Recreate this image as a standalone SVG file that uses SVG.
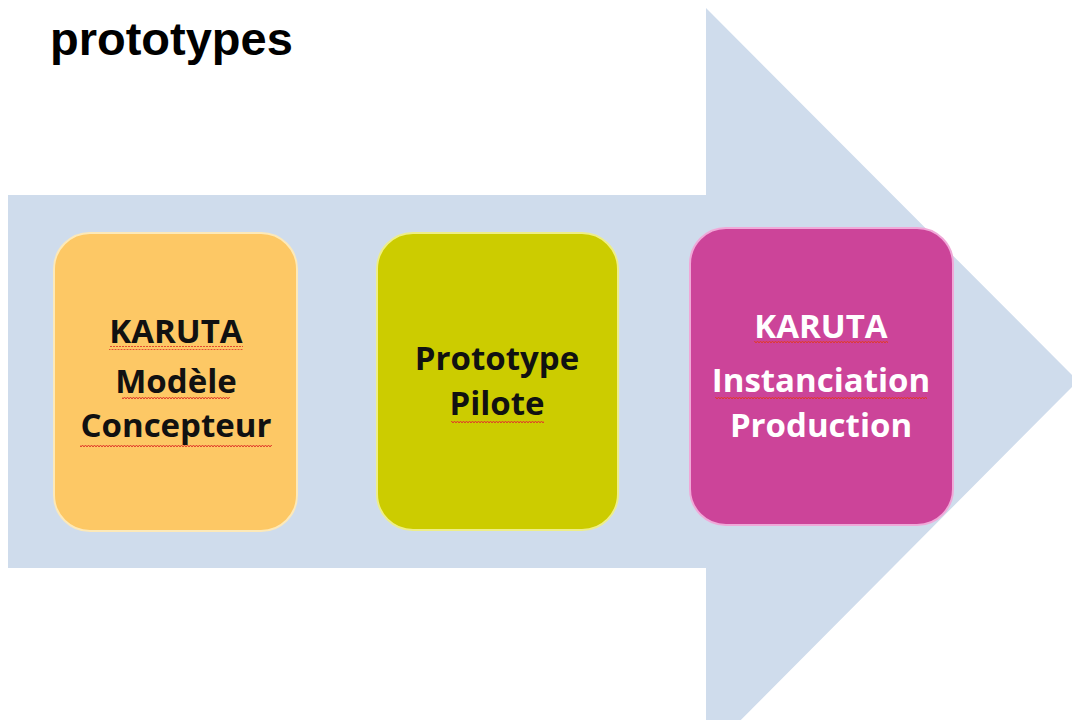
<svg xmlns="http://www.w3.org/2000/svg" width="1072" height="720" viewBox="0 0 1072 720">
<style>
.title{font-family:"Liberation Sans",Arial,sans-serif;font-weight:bold;font-size:47px;fill:#000}
.lbl{font-family:"Open Sans","Liberation Sans",sans-serif;font-weight:bold;font-size:33px;text-anchor:middle}
.dark{fill:#111}
.light{fill:#fff}
.wave{fill:url(#wv)}
</style>
<defs>
<pattern id="wv" width="6" height="4" patternUnits="userSpaceOnUse">
<path d="M0 3 L1.5 1 L3 3 L4.5 1 L6 3" fill="none" stroke="#e03a2a" stroke-width="1"/>
</pattern>
</defs>
<rect width="1072" height="720" fill="#fff"/>
<text class="title" x="50" y="55">prototypes</text>
<g id="arrow">
<polygon points="8,195 706,195 706,8 1078,381 706,755 706,568 8,568" fill="#cfdcec"/>
</g>
<g id="node1">
<rect x="54" y="233" width="243" height="298" rx="36" fill="#fdc865" stroke="#fde9b8" stroke-width="2"/>
<text class="lbl dark" x="176" y="343">KARUTA</text>
<text class="lbl dark" x="176" y="393">Modèle</text>
<text class="lbl dark" x="176" y="437">Concepteur</text>
<rect class="wave" x="109" y="346" width="134" height="4"/>
<rect class="wave" x="122" y="396" width="108" height="4"/>
<rect class="wave" x="80" y="444" width="192" height="4"/>
</g>
<g id="node2">
<rect x="377" y="233" width="241" height="297" rx="36" fill="#cccc00" stroke="#eeee88" stroke-width="2"/>
<text class="lbl dark" x="497" y="370">Prototype</text>
<text class="lbl dark" x="497" y="415">Pilote</text>
<rect class="wave" x="451" y="419" width="93" height="4"/>
</g>
<g id="node3">
<rect x="690" y="228" width="263" height="297" rx="36" fill="#cc4499" stroke="#f0a8d8" stroke-width="2"/>
<text class="lbl light" x="821" y="338">KARUTA</text>
<text class="lbl light" x="821" y="392">Instanciation</text>
<text class="lbl light" x="821" y="437">Production</text>
<rect class="wave" x="754" y="341" width="134" height="4"/>
<rect class="wave" x="715" y="395" width="212" height="4"/>
</g>
<g id="connectors"></g>
</svg>
